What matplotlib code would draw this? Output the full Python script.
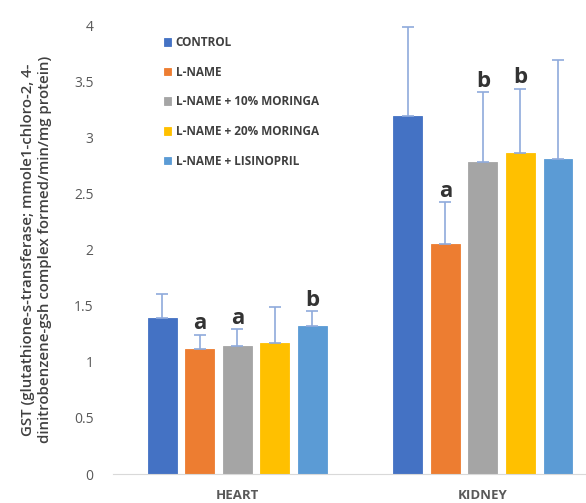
import matplotlib
matplotlib.use("Agg")
import matplotlib.pyplot as plt
import numpy as np

plt.rcParams['font.family'] = ['Open Sans', 'DejaVu Sans']

organs = ["HEART", "KIDNEY"]
groups = ["CONTROL", "L-NAME", "L-NAME + 10% MORINGA", "L-NAME + 20% MORINGA", "L-NAME + LISINOPRIL"]
colors = ["#4472C4", "#ED7D31", "#A5A5A5", "#FFC000", "#5B9BD5"]
means = {
    "HEART":  [1.39, 1.11, 1.14, 1.17, 1.32],
    "KIDNEY": [3.19, 2.05, 2.78, 2.86, 2.81],
}
errors = {
    "HEART":  [0.21, 0.13, 0.15, 0.32, 0.13],
    "KIDNEY": [0.79, 0.37, 0.62, 0.57, 0.88],
}
letters = {
    "HEART":  ["", "a", "a", "", "b"],
    "KIDNEY": ["", "a", "b", "b", ""],
}
yticks = [0, 0.5, 1, 1.5, 2, 2.5, 3, 3.5, 4]
ylabel = "GST (glutathione-s-transferase; mmole1-chloro-2, 4-\ndinitrobenzene-gsh complex formed/min/mg protein)"

fig = plt.figure(figsize=(5.86, 5.03), dpi=100)
ax = fig.add_axes([113/586, 29/503, 1 - 113/586, (474-25)/503])

x = np.arange(len(organs))
width = 0.118
step = 0.153
for i, g in enumerate(groups):
    vals = [means[o][i] for o in organs]
    errs = [errors[o][i] for o in organs]
    pos = x + (i - 2) * step
    ax.bar(pos, vals, width=width, color=colors[i], label=g,
           edgecolor=colors[i], linewidth=0.6, zorder=2)
    ax.errorbar(pos, vals, yerr=[np.zeros(len(errs)), errs], fmt='none',
                ecolor="#8FAADC", elinewidth=1.2, capsize=4, capthick=1.2, zorder=3)
    for j, o in enumerate(organs):
        if letters[o][i]:
            ax.text(pos[j], vals[j] + errs[j] + 0.005, letters[o][i], ha='center', va='bottom',
                    fontsize=16, fontweight='bold', color="#333333", zorder=4)

ax.set_xlim(-0.506, 1.42)
ax.set_ylim(0, 4)
ax.set_yticks(yticks)
ax.set_yticklabels([f"{t:g}" for t in yticks], fontsize=10, color="#595959")
ax.set_xticks(x)
ax.set_xticklabels(organs, fontsize=9.5, fontweight='bold', color="#595959")
ax.tick_params(axis='both', length=0)
ax.tick_params(axis='y', pad=14)
ax.tick_params(axis='x', pad=11)
for s in ['top', 'right', 'left']:
    ax.spines[s].set_visible(False)
ax.spines['bottom'].set_color("#D9D9D9")
ax.set_ylabel(ylabel, fontsize=10.8, fontweight='semibold', color="#404040", labelpad=16, linespacing=1.25)

leg = ax.legend(loc='upper left', bbox_to_anchor=(0.085, 0.999), frameon=False,
                prop={'size': 8.5, 'weight': 'bold'}, labelspacing=1.41,
                handlelength=0.6, handleheight=0.6, handletextpad=0.4)
for t in leg.get_texts():
    t.set_color("#404040")

fig.savefig("out.png", dpi=100)
